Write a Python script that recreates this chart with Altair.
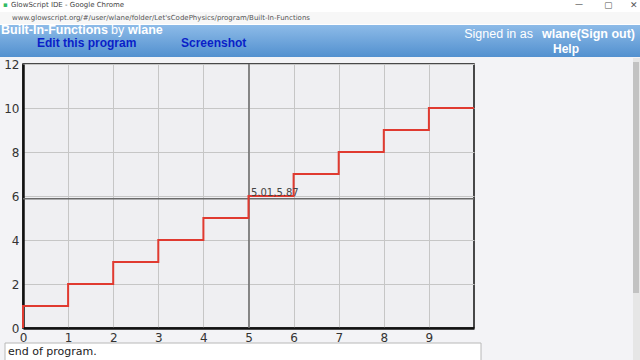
import altair as alt
import pandas as pd

# ---- data ----
step_x = [0, 0, 1, 2, 3, 4, 5, 6, 7, 8, 9, 10]
step_y = [0, 1, 2, 3, 4, 5, 6, 7, 8, 9, 10, 10]
cursor_x = [5.01]
cursor_y = [5.87]
cursor_label = ["5.01,5.87"]
x_ticks = [0, 1, 2, 3, 4, 5, 6, 7, 8, 9]
y_ticks = [0, 2, 4, 6, 8, 10, 12]

steps = pd.DataFrame({"x": step_x, "y": step_y, "i": list(range(len(step_x)))})
cur = pd.DataFrame({"x": cursor_x, "y": cursor_y, "t": cursor_label})

W, H = 451, 264
L, T = 23, 64
FONT = "DejaVu Sans"
HFONT = "Liberation Sans"

xs = alt.Scale(domain=[0, 10], nice=False)
ys = alt.Scale(domain=[0, 12], nice=False)
one = alt.Data(values=[{}])


def rect(x1, y1, x2, y2, fill, stroke=None, grad=None):
    kw = {}
    if stroke:
        kw["stroke"] = stroke
        kw["strokeWidth"] = 1
    return alt.Chart(one).mark_rect(color=grad if grad is not None else fill, **kw).encode(
        x=alt.value(x1 - L), x2=alt.value(x2 - L), y=alt.value(y1 - T), y2=alt.value(y2 - T)
    )


def txt(x, y, s, size=12, color="#222", weight="normal", align="left", font=FONT):
    return alt.Chart(one).mark_text(
        text=s, fontSize=size, color=color, fontWeight=weight, align=align,
        baseline="middle", font=font
    ).encode(x=alt.value(x - L), y=alt.value(y - T))


header_grad = alt.LinearGradient(
    gradient="linear",
    stops=[alt.GradientStop(color="#8dbbe8", offset=0), alt.GradientStop(color="#5290cf", offset=1)],
    x1=0, x2=0, y1=0, y2=1,
)

deco = [
    rect(0, 0, 640, 25, "#ffffff"),
    rect(0, 12, 640, 24, "#f7f7f7"),
    rect(0, 25, 640, 57, None, grad=header_grad),
    rect(5, 343, 481, 362, "#ffffff", stroke="#b8b8b8"),
    rect(633, 58, 640, 360, "#e6e6e6"),
    rect(633, 62, 639, 293, "#c2c2c2"),
    txt(11, 5, "GlowScript IDE - Google Chrome", size=7, color="#444"),
    txt(3, 5, "▪", size=7, color="#3b6"),
    txt(12, 18, "www.glowscript.org/#/user/wlane/folder/Let'sCodePhysics/program/Built-In-Functions", size=7, color="#555"),
    txt(575, 5, "—", size=8, color="#555"),
    txt(604, 5, "▢", size=9, color="#555"),
    txt(630, 5, "✕", size=9, color="#555"),
    txt(1, 30, "Built-In-Functions", size=12.5, color="#ffffff", weight="bold", font=HFONT),
    txt(111, 30, "by", size=12.5, color="#ffffff", font=HFONT),
    txt(128, 30, "wlane", size=12.5, color="#ffffff", weight="bold", font=HFONT),
    txt(37, 43, "Edit this program", size=12, color="#0a1fc8", weight="bold", font=HFONT),
    txt(181, 43, "Screenshot", size=12, color="#0a1fc8", weight="bold", font=HFONT),
    txt(635, 34, "wlane(Sign out)", size=12.5, color="#ffffff", weight="bold", align="right", font=HFONT),
    txt(533, 34, "Signed in as", size=12.5, color="#ffffff", align="right", font=HFONT),
    txt(566, 48.5, "Help", size=12, color="#ffffff", weight="bold", align="center", font=HFONT),
    txt(8, 352, "end of program.", size=11, color="#222"),
]

base = alt.Chart(steps)

grid_axis_x = alt.Axis(values=x_ticks, grid=True, gridColor="#c6c6c6", gridWidth=1, ticks=False,
                       labelFont=FONT, labelFontSize=12, labelColor="#333", labelPadding=4,
                       labelFlush=False,
                       domainColor="#111", domainWidth=2.5, title=None)
grid_axis_y = alt.Axis(values=y_ticks, grid=True, gridColor="#c6c6c6", gridWidth=1, ticks=False,
                       labelFont=FONT, labelFontSize=12, labelColor="#333", labelPadding=4,
                       labelFlush=False,
                       domainColor="#111", domainWidth=2.5, title=None)

line = base.mark_line(color="#e03a30", strokeWidth=2, interpolate="step-after").encode(
    x=alt.X("x:Q", scale=xs, axis=grid_axis_x),
    y=alt.Y("y:Q", scale=ys, axis=grid_axis_y),
    order="i:Q",
)

cx = alt.Chart(cur).mark_rule(color="#6a6a6a", strokeWidth=1.5).encode(x=alt.X("x:Q", scale=xs))
cy = alt.Chart(cur).mark_rule(color="#6a6a6a", strokeWidth=1.5).encode(y=alt.Y("y:Q", scale=ys))
ct = alt.Chart(cur).mark_text(align="left", baseline="bottom", dx=2, dy=-1, fontSize=10,
                              font=FONT, color="#444").encode(
    x=alt.X("x:Q", scale=xs), y=alt.Y("y:Q", scale=ys), text="t:N")

chart = alt.layer(*deco, cx, cy, line, ct).properties(
    width=W, height=H,
    padding={"left": L, "top": T, "right": 640 - L - W, "bottom": 360 - T - H},
    autosize=alt.AutoSizeParams(type="none"),
    background="#f3f3f6",
).configure_view(fill="#efeff2", stroke="#111", strokeWidth=1.5)

chart.save("out.html", embed_options={"renderer": "svg", "actions": False})
